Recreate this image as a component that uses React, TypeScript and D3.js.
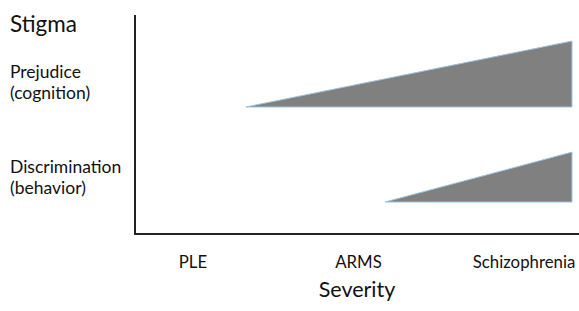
import React from 'react';
import * as d3 from 'd3';

// severity stages along the x axis
const stages = ['PLE', 'ARMS', 'Schizophrenia'];
const stageValues = [0, 1, 2];

// each stigma row: [label lines], where it starts, where it ends, base and peak level
const rowNames = ['Prejudice', 'Discrimination'];
const rowSubNames = ['(cognition)', '(behavior)'];
const rowStart = [0.32, 1.16];
const rowEnd = [2.29, 2.29];
const rowBase = [58, 14.6];
const rowPeak = [88.1, 37.4];

const W = 579, H = 311;
const font = 'Lato, "Open Sans", sans-serif';

export default function App() {
  const x = d3.scaleLinear().domain([0, 2]).range([193, 524]);
  const y = d3.scaleLinear().domain([0, 100]).range([234, 15]);

  const area = d3.area<[number, number, number]>()
    .x(d => x(d[0]))
    .y0(d => y(d[1]))
    .y1(d => y(d[2]))
    .curve(d3.curveLinear);

  const axisX = x.range()[0] - 58;

  return (
    <svg width={W} height={H} style={{ position: 'absolute', left: 0, top: 0 }}>
      <rect width={W} height={H} fill="#fff" />
      {rowNames.map((n, i) => {
        const pts: [number, number, number][] = [
          [rowStart[i], rowBase[i], rowBase[i]],
          [rowEnd[i], rowBase[i], rowPeak[i]],
        ];
        return (
          <path key={n} d={area(pts) || ''} fill="#808080" stroke="#9dc3e6" strokeWidth={1} />
        );
      })}
      <line x1={axisX} x2={axisX} y1={y(100)} y2={y(0)} stroke="#222" strokeWidth={2} />
      <line x1={axisX - 1} x2={W} y1={y(0)} y2={y(0)} stroke="#222" strokeWidth={2} />

      <text x={10} y={32} fontFamily={font} fontSize={22.5} fill="#111">Stigma</text>
      {rowNames.map((n, i) => {
        const top = [78, 173][i];
        return (
          <text key={n} fontFamily={font} fontSize={17.5} fill="#111">
            <tspan x={10} y={top}>{n}</tspan>
            <tspan x={10} y={top + 21}>{rowSubNames[i]}</tspan>
          </text>
        );
      })}

      {stages.map((s, i) => (
        <text key={s} x={x(stageValues[i])} y={268} textAnchor="middle" fontFamily={font} fontSize={16.8} fill="#111">{s}</text>
      ))}
      <text x={357} y={297} textAnchor="middle" fontFamily={font} fontSize={21.5} fill="#111">Severity</text>
    </svg>
  );
}
